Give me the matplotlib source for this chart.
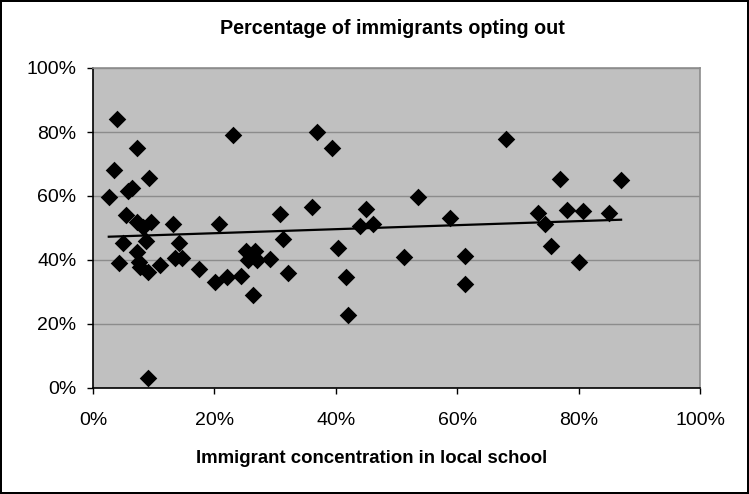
import numpy as np
import matplotlib
matplotlib.use("Agg")
import matplotlib.pyplot as plt
from matplotlib.ticker import PercentFormatter, MultipleLocator

plt.rcParams['font.family'] = ['Liberation Sans', 'DejaVu Sans']

# Immigrant concentration in local school (%)
concentration = [
    3.9, 23.0, 7.3, 3.4, 9.2, 5.8, 6.4, 2.6, 5.4, 7.2, 8.3, 9.6, 13.1, 20.7,
    30.8, 4.9, 8.7, 14.1, 31.3, 7.2, 7.5, 7.7, 4.3, 9.1, 11.0, 13.5, 14.7,
    17.4, 20.1, 22.0, 24.3, 25.2, 26.7, 25.6, 27.1, 29.1, 26.4, 32.1, 9.1,
    36.9, 39.4, 36.1, 45.0, 53.5, 44.0, 46.2, 58.8, 40.4, 51.3, 61.3, 41.7,
    61.3, 42.0,
    68.1, 77.0, 87.0, 73.3, 78.1, 80.7, 85.0, 74.4, 75.4, 80.1,
]
# Percentage of immigrants opting out (%)
opting_out = [
    84.0, 79.1, 75.1, 68.1, 65.5, 61.7, 62.6, 59.8, 54.1, 52.0, 50.4, 52.0, 51.2, 51.4,
    54.4, 45.4, 46.0, 45.2, 46.5, 42.6, 39.5, 37.9, 39.0, 36.3, 38.4, 40.5, 40.5,
    37.2, 33.2, 34.8, 35.0, 42.9, 42.9, 40.0, 40.0, 40.2, 29.1, 35.8, 3.0,
    80.1, 74.9, 56.5, 55.9, 59.8, 50.7, 51.4, 53.2, 43.6, 41.0, 41.3, 34.6,
    32.4, 22.8,
    77.8, 65.2, 65.0, 54.6, 55.6, 55.4, 54.8, 51.1, 44.5, 39.3,
]

x = np.array(concentration) / 100
y = np.array(opting_out) / 100

W, H = 749, 494
fig = plt.figure(figsize=(W / 100, H / 100), dpi=100)
fig.patch.set_facecolor('white')
fig.patch.set_edgecolor('black')
fig.patch.set_linewidth(1.5)

# plot area in pixel coordinates: left 93, right 700, top 68, bottom 388
ax = fig.add_axes([93 / W, 1 - 388 / H, (700 - 93) / W, (388 - 68) / H])
ax.set_facecolor('#C0C0C0')

ax.scatter(x, y, marker='D', s=80, color='black', zorder=3, linewidths=0)

# Linear trend line
slope, intercept = np.polyfit(x, y, 1)
xs = np.array([x.min(), x.max()])
ax.plot(xs, slope * xs + intercept, color='black', lw=1.6, zorder=4)

ax.set_xlim(0, 1)
ax.set_ylim(0, 1)
ax.xaxis.set_major_locator(MultipleLocator(0.2))
ax.yaxis.set_major_locator(MultipleLocator(0.2))
ax.xaxis.set_major_formatter(PercentFormatter(1.0, decimals=0))
ax.yaxis.set_major_formatter(PercentFormatter(1.0, decimals=0))
ax.grid(axis='y', color='#8C8C8C', lw=1)
ax.set_axisbelow(True)

for side in ('top', 'right'):
    ax.spines[side].set_color('#8C8C8C')
    ax.spines[side].set_linewidth(1.2)
for side in ('left', 'bottom'):
    ax.spines[side].set_color('black')
    ax.spines[side].set_linewidth(1.2)

ax.tick_params(axis='both', direction='out', length=4, width=1, color='black',
               labelsize=14)
ax.tick_params(axis='x', pad=13)
ax.tick_params(axis='y', pad=8)

fig.text(392 / W, 1 - 29 / H, 'Percentage of immigrants opting out',
         fontsize=14.2, fontweight='bold', ha='center', va='center')
fig.text(372 / W, 1 - 458 / H, 'Immigrant concentration in local school',
         fontsize=13.4, fontweight='bold', ha='center', va='center')

fig.savefig('out.png', dpi=100, facecolor=fig.get_facecolor(),
            edgecolor=fig.get_edgecolor())
